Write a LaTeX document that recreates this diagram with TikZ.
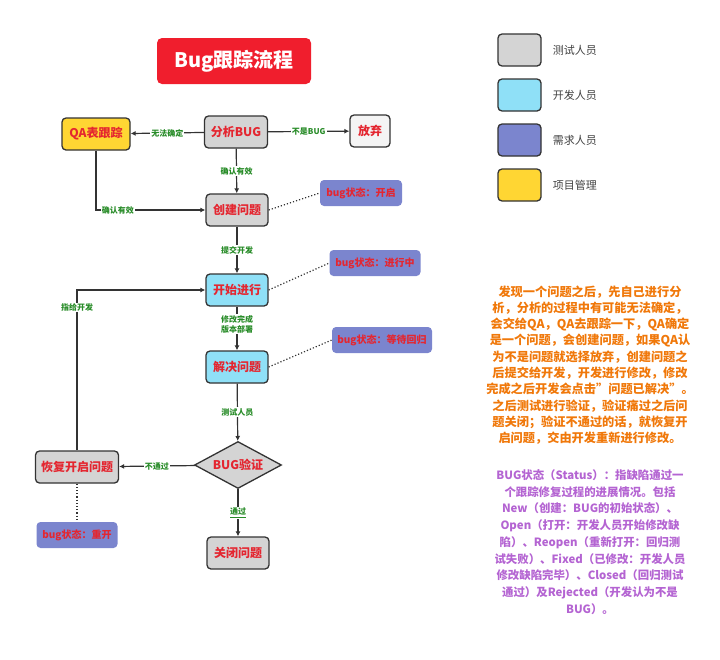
\documentclass[tikz,border=0pt]{standalone}
\usepackage{fontspec}
\setmainfont{Noto Sans CJK SC}
\usetikzlibrary{positioning,shapes.geometric,arrows.meta}

\definecolor{titlered}{RGB}{240,30,45}
\definecolor{boxred}{RGB}{228,38,48}
\definecolor{testgray}{RGB}{212,212,212}
\definecolor{devcyan}{RGB}{143,224,247}
\definecolor{reqpurple}{RGB}{123,133,206}
\definecolor{pmyellow}{RGB}{255,214,51}
\definecolor{dropgray}{RGB}{244,244,244}
\definecolor{lblgreen}{RGB}{40,140,40}
\definecolor{noteorange}{RGB}{240,120,10}
\definecolor{notepurple}{RGB}{180,100,210}

\tikzset{
  box/.style={draw=black!80, line width=1.3pt, rounded corners=4pt,
    minimum width=62pt, minimum height=32pt, inner sep=2pt, text=boxred,
    font=\bfseries\fontsize{12}{14}\selectfont},
  tester/.style={box, fill=testgray},
  dev/.style={box, fill=devcyan},
  pm/.style={box, fill=pmyellow},
  state/.style={fill=reqpurple, rounded corners=4pt, text=boxred,
    minimum height=26pt, inner xsep=4pt, font=\bfseries\fontsize{10}{12}\selectfont},
  lbl/.style={fill=white, text=lblgreen, inner sep=1pt, align=center,
    font=\bfseries\fontsize{8}{10}\selectfont},
  flow/.style={line width=1.2pt, draw=black!80, -{Latex[length=5pt,width=5pt]}},
  dots/.style={line width=1.2pt, dotted, draw=black!80},
  legendbox/.style={draw=black!80, line width=1.3pt, rounded corners=4pt,
    minimum width=43pt, minimum height=32pt},
  legendtext/.style={inner sep=0pt, text=black!75, font=\fontsize{11}{13}\selectfont}
}

\begin{document}
\begin{tikzpicture}[x=1pt, y=-1pt]
  \useasboundingbox (0,0) rectangle (720,659);

  % 标题
  \node[fill=titlered, rounded corners=5pt, minimum width=154pt, minimum height=46pt,
    text=white, font=\bfseries\fontsize{20}{24}\selectfont] (title) at (234,61) {Bug跟踪流程};

  % 流程节点
  \node[pm, minimum width=68pt] (qa) at (96,134) {QA表跟踪};
  \node[tester, minimum width=63pt] (analyse) at (236,132) {分析BUG};
  \node[box, fill=dropgray, minimum width=40pt] (drop) at (370,131) {放弃};
  \node[tester] (create) at (237,210) {创建问题};
  \node[dev] (start) at (237,290) {开始进行};
  \node[dev] (solve) at (237,367) {解决问题};
  \node[diamond, draw=black!80, line width=1.3pt, fill=testgray, aspect=1.85,
    minimum width=87pt, minimum height=47pt, inner sep=0pt, text=boxred,
    font=\bfseries\fontsize{12}{14}\selectfont] (verify) at (238,465) {BUG验证};
  \node[tester, minimum width=83pt] (reopen) at (77,467) {恢复开启问题};
  \node[tester] (close) at (238,553) {关闭问题};

  % 状态说明
  \node[state, minimum width=82pt] (sopen) at (361,193) {bug状态：开启};
  \node[state, minimum width=91pt] (sdoing) at (375,263) {bug状态：进行中};
  \node[state, minimum width=100pt] (swait) at (382,340) {bug状态：等待回归};
  \node[state, minimum width=81pt] (sreopen) at (77,535) {bug状态：重开};

  % 连线
  \draw[flow] (analyse) -- node[lbl] {无法确定} (qa);
  \draw[flow] (analyse) -- node[lbl] {不是BUG} (drop);
  \draw[flow] (analyse) -- node[lbl] {确认有效} (create);
  \draw[flow] (qa.south) |- node[lbl, pos=0.6] {确认有效} (create.west);
  \draw[flow] (create) -- node[lbl] {提交开发} (start);
  \draw[flow] (start) -- node[lbl, pos=0.4] {修改完成\\版本部署} (solve);
  \draw[flow] (solve) -- node[lbl] {测试人员} (verify);
  \draw[flow] (verify) -- node[lbl] {不通过} (reopen);
  \draw[flow] (verify) -- node[lbl] {\underline{通过}} (close);
  \draw[flow] (reopen.north) |- node[lbl, pos=0.445] {指给开发} (start.west);

  % 虚线
  \draw[dots] (create.east) -- (sopen.west);
  \draw[dots] (start.east) -- (sdoing.west);
  \draw[dots] (solve.east) -- (swait.west);
  \draw[dots] (reopen.south) -- (sreopen.north);

  % 图例
  \node[legendbox, fill=testgray] (ltest) at (519.5,50) {};
  \node[legendbox, fill=devcyan] (ldev) at (519.5,95) {};
  \node[legendbox, fill=reqpurple] (lreq) at (519.5,140) {};
  \node[legendbox, fill=pmyellow] (lpm) at (519.5,185) {};
  \node[legendtext, right=11pt of ltest] {测试人员};
  \node[legendtext, right=11pt of ldev] {开发人员};
  \node[legendtext, right=11pt of lreq] {需求人员};
  \node[legendtext, right=11pt of lpm] {项目管理};

  % 文字说明
  \node[align=center, text=noteorange, inner sep=0pt,
    font=\bfseries\fontsize{12.2}{16.3}\selectfont] (note) at (590,365) {%
    发现一个问题之后，先自己进行分\\
    析，分析的过程中有可能无法确定，\\
    会交给QA，QA去跟踪一下，QA确定\\
    是一个问题，会创建问题，如果QA认\\
    为不是问题就选择放弃，创建问题之\\
    后提交给开发，开发进行修改，修改\\
    完成之后开发会点击\symbol{34}问题已解决\symbol{34}。\\
    之后测试进行验证，验证痛过之后问\\
    题关闭；验证不通过的话，就恢复开\\
    启问题，交由开发重新进行修改。};
  \node[align=center, text=notepurple, inner sep=0pt,
    font=\bfseries\fontsize{11.4}{16.7}\selectfont] (status) at (590,542) {%
    BUG状态（Status）：指缺陷通过一\\
    个跟踪修复过程的进展情况。包括\\
    New（创建：BUG的初始状态）、\\
    Open（打开：开发人员开始修改缺\\
    陷）、Reopen（重新打开：回归测\\
    试失败）、Fixed（已修改：开发人员\\
    修改缺陷完毕）、Closed（回归测试\\
    通过）及Rejected（开发认为不是\\
    BUG）。};
\end{tikzpicture}
\end{document}
